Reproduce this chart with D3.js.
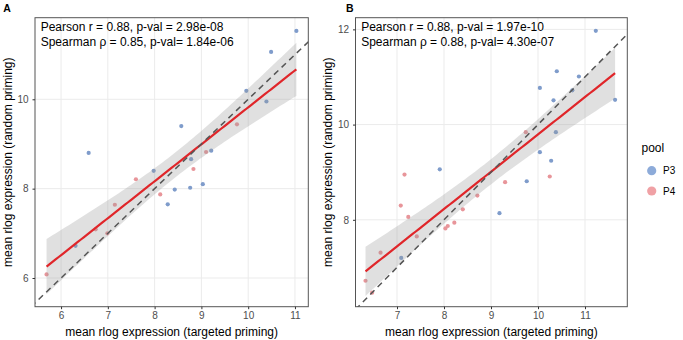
<!DOCTYPE html>
<html>
<head>
<meta charset="utf-8">
<script src="https://cdn.jsdelivr.net/npm/d3@7"></script>
<style>
body { margin: 0; background: #fff; }
text { font-family: "Liberation Sans", Arial, sans-serif; }
</style>
</head>
<body>
<div id="chart"></div>
<script>
// Panel A data (mean rlog expression: targeted vs random priming)
const aP3x = [11.03, 10.49, 9.96, 10.39, 8.57, 6.59, 9.21, 8.78, 7.98, 8.43, 8.76, 9.03, 8.28, 6.31]
const aP3y = [11.53, 11.06, 10.19, 9.95, 9.40, 8.80, 8.85, 8.66, 8.40, 7.98, 8.02, 8.10, 7.65, 6.72]
const aP4x = [9.76, 9.10, 8.83, 7.60, 8.12, 7.15, 6.99, 6.74, 5.69]
const aP4y = [9.44, 8.82, 8.44, 8.21, 7.87, 7.64, 7.00, 7.09, 6.08]

// Panel B data
const bP3x = [11.23, 10.40, 10.87, 10.04, 10.73, 10.33, 11.64, 10.38, 10.04, 10.28, 7.91, 9.76, 9.18, 7.09]
const bP3y = [11.97, 11.12, 11.01, 10.77, 10.72, 10.51, 10.52, 9.84, 9.42, 9.24, 9.06, 8.81, 8.14, 7.20]
const bP4x = [9.74, 7.16, 9.30, 10.25, 7.08, 7.24, 8.71, 8.40, 8.22, 8.08, 8.03, 7.42, 6.65, 6.33, 6.47]
const bP4y = [9.84, 8.95, 8.79, 8.91, 8.30, 8.06, 8.51, 8.22, 7.94, 7.87, 7.82, 7.65, 7.31, 6.72, 6.47]

// Ticks and labels
const aXTicks = [6, 7, 8, 9, 10, 11]
const aYTicks = [6, 8, 10]
const bXTicks = [7, 8, 9, 10, 11]
const bYTicks = [8, 10, 12]
const aStats = ['Pearson r = 0.88, p-val = 2.98e-08', 'Spearman \u03c1 = 0.85, p-val= 1.84e-06']
const bStats = ['Pearson r = 0.88, p-val = 1.97e-10', 'Spearman \u03c1 = 0.88, p-val= 4.30e-07']
const pools = ['P3', 'P4']

// Chart dimensions
const width = 683
const height = 340

// Colors
const poolColor = { P3: '#7f9ccb', P4: '#e8959a' }
const legendColor = { P3: '#8dabd9', P4: '#f0a1a5' }
const lineColor = '#e0262a'
const gridColor = '#ebebeb'

const svg = d3.select('#chart')
	.append('svg')
	.attr('width', width)
	.attr('height', height)

// t quantile (0.975) approximation for the confidence band
function tQuant(df) {
	const z = 1.959964
	return z + (z ** 3 + z) / (4 * df) + (5 * z ** 5 + 16 * z ** 3 + 3 * z) / (96 * df * df)
}

function linFit(xs, ys) {
	const n = xs.length
	const mx = d3.mean(xs), my = d3.mean(ys)
	let sxx = 0, sxy = 0
	xs.forEach((x, i) => { sxx += (x - mx) ** 2; sxy += (x - mx) * (ys[i] - my) })
	const b = sxy / sxx
	const a = my - b * mx
	let sse = 0
	xs.forEach((x, i) => { sse += (ys[i] - a - b * x) ** 2 })
	const s = Math.sqrt(sse / (n - 2))
	const t = tQuant(n - 2)
	return { a, b, n, mx, sxx, s, t }
}

function drawPanel(opt) {
	const g = svg.append('g')
	const x = d3.scaleLinear().domain(opt.xDomain).range([opt.left, opt.right])
	const y = d3.scaleLinear().domain(opt.yDomain).range([opt.bottom, opt.top])

	const clipId = 'clip' + opt.label
	svg.append('clipPath').attr('id', clipId)
		.append('rect')
		.attr('x', opt.left).attr('y', opt.top)
		.attr('width', opt.right - opt.left).attr('height', opt.bottom - opt.top)

	// Grid
	g.selectAll('.gx').data(opt.xTicks).enter().append('line')
		.attr('x1', d => x(d)).attr('x2', d => x(d))
		.attr('y1', opt.top).attr('y2', opt.bottom)
		.attr('stroke', gridColor).attr('stroke-width', 1)
	g.selectAll('.gy').data(opt.yTicks).enter().append('line')
		.attr('y1', d => y(d)).attr('y2', d => y(d))
		.attr('x1', opt.left).attr('x2', opt.right)
		.attr('stroke', gridColor).attr('stroke-width', 1)

	const plot = g.append('g').attr('clip-path', 'url(#' + clipId + ')')

	// Points
	const pts = []
	opt.p3x.forEach((v, i) => pts.push({ x: v, y: opt.p3y[i], pool: 'P3' }))
	opt.p4x.forEach((v, i) => pts.push({ x: v, y: opt.p4y[i], pool: 'P4' }))
	plot.selectAll('circle').data(pts).enter().append('circle')
		.attr('cx', d => x(d.x)).attr('cy', d => y(d.y))
		.attr('r', 2.1)
		.attr('fill', d => poolColor[d.pool])

	// Linear fit with 95% band
	const allX = pts.map(d => d.x), allY = pts.map(d => d.y)
	const fit = linFit(allX, allY)
	const xs = d3.range(0, 81).map(i => d3.min(allX) + (d3.max(allX) - d3.min(allX)) * i / 80)
	const band = xs.map(v => {
		const yhat = fit.a + fit.b * v
		const se = fit.s * Math.sqrt(1 / fit.n + (v - fit.mx) ** 2 / fit.sxx)
		return { x: v, lo: yhat - fit.t * se, hi: yhat + fit.t * se, fit: yhat }
	})
	plot.append('path').datum(band)
		.attr('d', d3.area().x(d => x(d.x)).y0(d => y(d.lo)).y1(d => y(d.hi)))
		.attr('fill', '#999').attr('fill-opacity', 0.3)
	plot.append('path').datum(band)
		.attr('d', d3.line().x(d => x(d.x)).y(d => y(d.fit)))
		.attr('fill', 'none').attr('stroke', lineColor).attr('stroke-width', 2.2)

	// Identity line
	const lo = Math.min(opt.xDomain[0], opt.yDomain[0]), hi = Math.max(opt.xDomain[1], opt.yDomain[1])
	plot.append('line')
		.attr('x1', x(lo)).attr('y1', y(lo)).attr('x2', x(hi)).attr('y2', y(hi))
		.attr('stroke', '#555').attr('stroke-width', 1.5).attr('stroke-dasharray', '6,4.5')

	// Border
	g.append('rect')
		.attr('x', opt.left).attr('y', opt.top)
		.attr('width', opt.right - opt.left).attr('height', opt.bottom - opt.top)
		.attr('fill', 'none').attr('stroke', '#555').attr('stroke-width', 1)

	// Axes
	const xAxis = g.append('g').attr('transform', 'translate(0,' + opt.bottom + ')')
		.call(d3.axisBottom(x).tickValues(opt.xTicks).tickSize(2.5).tickPadding(3).tickFormat(d3.format('d')))
	const yAxis = g.append('g').attr('transform', 'translate(' + opt.left + ',0)')
		.call(d3.axisLeft(y).tickValues(opt.yTicks).tickSize(2.5).tickPadding(4).tickFormat(d3.format('d')))
	;[xAxis, yAxis].forEach(ax => {
		ax.select('.domain').remove()
		ax.selectAll('line').attr('stroke', '#333')
		ax.selectAll('text').attr('fill', '#4d4d4d').style('font-size', '10px')
			.style('font-family', '"Liberation Sans", Arial, sans-serif')
	})

	// Axis titles
	g.append('text')
		.attr('x', (opt.left + opt.right) / 2).attr('y', 335.5)
		.attr('text-anchor', 'middle').style('font-size', '12px')
		.text('mean rlog expression (targeted priming)')
	g.append('text')
		.attr('transform', 'translate(' + opt.yTitleX + ',' + (opt.top + opt.bottom) / 2 + ') rotate(-90)')
		.attr('text-anchor', 'middle').style('font-size', '12px')
		.text('mean rlog expression (random priming)')

	// Stats annotation
	g.selectAll('.stat').data(opt.stats).enter().append('text')
		.attr('x', opt.left + 5.7).attr('y', (d, i) => 30.5 + i * 15)
		.style('font-size', '12px').attr('fill', '#000')
		.text(d => d)

	// Panel label
	g.append('text')
		.attr('x', opt.labelX).attr('y', 11.5)
		.style('font-size', '10.5px').style('font-weight', 'bold')
		.text(opt.label)
}

drawPanel({
	label: 'A', labelX: 3.3, yTitleX: 11.5,
	left: 35, right: 308.3, top: 17.7, bottom: 306.7,
	xDomain: [5.443, 11.285], yDomain: [5.358, 11.826],
	xTicks: aXTicks, yTicks: aYTicks,
	p3x: aP3x, p3y: aP3y, p4x: aP4x, p4y: aP4y, stats: aStats
})
drawPanel({
	label: 'B', labelX: 346, yTitleX: 331.5,
	left: 355.5, right: 627.3, top: 17.7, bottom: 306.7,
	xDomain: [6.117, 11.9], yDomain: [6.175, 12.245],
	xTicks: bXTicks, yTicks: bYTicks,
	p3x: bP3x, p3y: bP3y, p4x: bP4x, p4y: bP4y, stats: bStats
})

// Legend
const legend = svg.append('g')
legend.append('text').attr('x', 641.5).attr('y', 151.7)
	.style('font-size', '12px').text('pool')
legend.selectAll('circle').data(pools).enter().append('circle')
	.attr('cx', 651.7).attr('cy', (d, i) => 170.7 + i * 20.3)
	.attr('r', 4.6).attr('fill', d => legendColor[d])
legend.selectAll('.lab').data(pools).enter().append('text')
	.attr('x', 663).attr('y', (d, i) => 170.7 + i * 20.3).attr('dy', '0.35em')
	.style('font-size', '10px').attr('fill', '#000')
	.text(d => d)
</script>
</body>
</html>
